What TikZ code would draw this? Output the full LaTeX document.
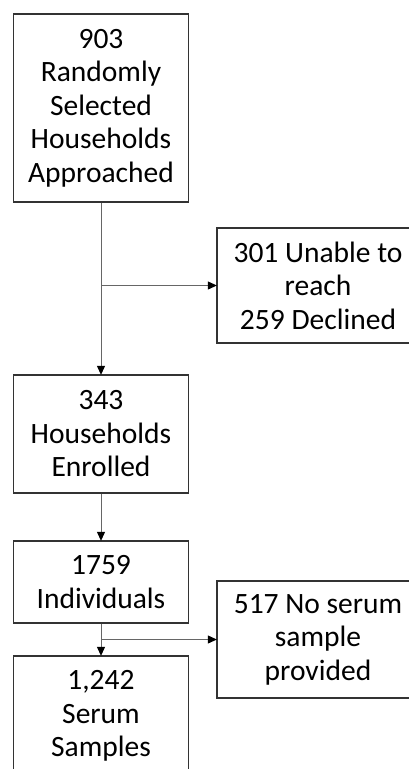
\documentclass[tikz,border=0pt]{standalone}
\usepackage{fontspec}
\setmainfont{Carlito}
\usetikzlibrary{arrows.meta}
\tikzset{
  box/.style={draw=black!80, line width=1.3pt, fill=white, align=center, inner sep=0pt,
    font=\fontsize{29.5}{33.5}\selectfont},
  conn/.style={draw=black!60, line width=0.9pt},
  arr/.style={conn, -{Triangle[length=9pt,width=8pt,fill=black,color=black]}, shorten >=-0.5pt}
}
\begin{document}
\begin{tikzpicture}[x=1pt,y=-1pt]
\clip (0,0) rectangle (409,769);
\fill[white] (0,0) rectangle (409,769);
\node[box, minimum width=175pt, minimum height=188pt] (b1) at (101,108)
  {903\\Randomly\\Selected\\Households\\Approached};
\node[box, minimum width=202pt, minimum height=115pt] (b2) at (318,285.5)
  {301 Unable to\\reach\\259 Declined};
\node[box, minimum width=175pt, minimum height=118pt] (b3) at (101,434)
  {343\\Households\\Enrolled};
\node[box, minimum width=175pt, minimum height=82pt] (b4) at (101,582)
  {1759\\Individuals};
\node[box, minimum width=202pt, minimum height=117pt] (b5) at (318,639.5)
  {517 No serum\\sample\\provided};
\node[box, minimum width=175pt, minimum height=120pt] (b6) at (101,716)
  {1,242\\Serum\\Samples};
\draw[arr] (b1) -- (b3);
\draw[arr] (b1.south |- b2.west) -- (b2.west);
\draw[arr] (b3) -- (b4);
\draw[arr] (b4) -- (b6);
\draw[arr] (b4.south |- b5.west) -- (b5.west);
\end{tikzpicture}
\end{document}
